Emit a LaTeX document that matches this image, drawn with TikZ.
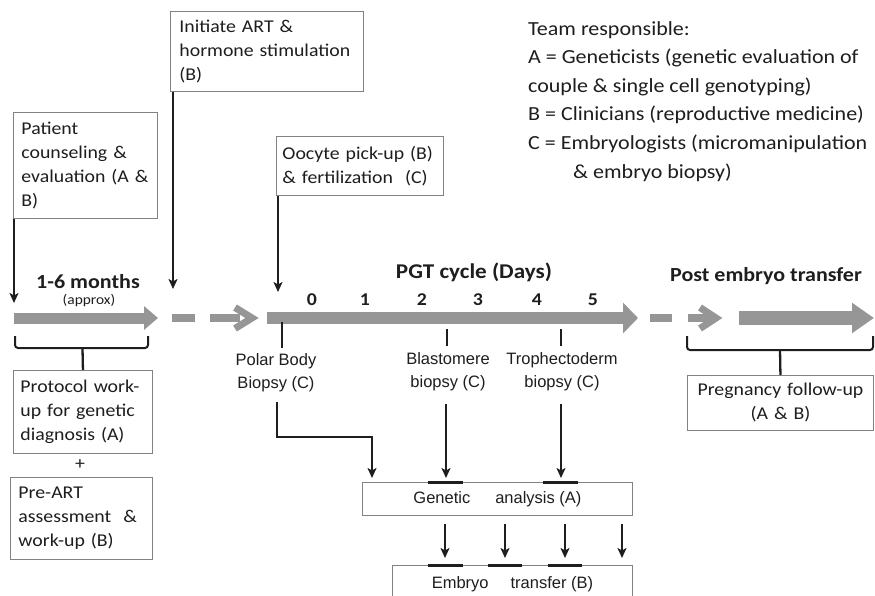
\documentclass[tikz,border=0pt]{standalone}
\usepackage{fontspec}
\setmainfont[FakeStretch=1.1]{Carlito}
\newfontfamily\arialfont{Liberation Sans}
\usetikzlibrary{arrows.meta,calc}
\definecolor{barg}{RGB}{150,150,150}
\definecolor{boxg}{RGB}{130,130,130}
\definecolor{ink}{RGB}{30,30,30}
\definecolor{txt}{RGB}{30,30,30}
\tikzset{
  box/.style={draw=boxg, line width=0.9pt, rectangle, anchor=north west, inner ysep=0pt,
    text=txt, font=\fontsize{18}{24}\selectfont},
  lbox/.style={box, align=left},
  abox/.style={draw=boxg, line width=0.9pt, rectangle, anchor=north west, inner sep=0pt,
    text=txt, font=\arialfont\fontsize{16.5}{20}\selectfont, align=center},
  conn/.style={draw=ink, line width=2.3pt},
  arr/.style={conn, -{Stealth[length=10pt,width=9pt,inset=2.5pt]}},
  bar/.style={draw=ink, line width=3pt},
  bigbar/.style={draw=barg, line cap=butt},
  dashbar/.style={draw=barg, line width=8pt, line cap=butt},
  chev/.style={draw=barg, line width=7pt, line cap=butt, line join=miter},
  brace/.style={draw=ink, line width=2pt, rounded corners=3pt},
  lbl/.style={text=txt, font=\arialfont\fontsize{16.5}{23}\selectfont, align=center, inner sep=0pt},
  hdr/.style={text=txt, font=\bfseries\fontsize{20}{24}\selectfont, inner sep=0pt},
  day/.style={text=txt, font=\bfseries\fontsize{18}{20}\selectfont, inner sep=0pt},
}
\begin{document}
\begin{tikzpicture}[x=1pt,y=-1pt]
\clip (0,0) rectangle (875,596);
\fill[white] (0,0) rectangle (875,596);

% ---- top boxes
\node[lbox, minimum width=193pt, minimum height=80pt, text width=175pt, inner xsep=9pt] (init) at (170,11)
  {Initiate ART \&\\hormone stimulation\\(B)};
\node[lbox, minimum width=144pt, minimum height=106pt, text width=128pt, inner xsep=8pt] (patient) at (13,112)
  {Patient\\counseling \&\\evaluation (A \&\\B)};
\node[lbox, minimum width=167pt, minimum height=59pt, text width=155pt, inner xsep=6pt] (oocyte) at (276,136)
  {Oocyte pick-up (B)\\\& fertilization\ \ (C)};

% ---- team legend
\node[anchor=north west, inner sep=0pt, align=left, text=txt, font=\fontsize{20}{28.6}\selectfont] (team) at (528,21)
  {Team responsible:\\
   A = Geneticists (genetic evaluation of\\
   couple \& single cell genotyping)\\
   B = Clinicians (reproductive medicine)\\
   C = Embryologists (micromanipulation\\
   \hspace*{45pt}\& embryo biopsy)};

% ---- arrows from top boxes
\coordinate (c1) at (14,303);
\coordinate (c2) at (173,289);
\coordinate (c3) at (278,292);
\draw[arr] ([xshift=1pt]patient.south west) -- (c1);
\draw[arr] ([xshift=3pt]init.south west) -- (c2);
\draw[arr] ([xshift=2pt]oocyte.south west) -- (c3);

% ---- headings
\node[hdr] (months) at (88,282) {1-6 months};
\node[text=txt, font=\fontsize{14}{16}\selectfont, inner sep=0pt] (approx) at (89,301) {(approx)};
\node[hdr, font=\bfseries\fontsize{21}{24}\selectfont] (pgt) at (474,272) {PGT cycle (Days)};
\node[hdr] (post) at (766,276) {Post embryo transfer};
\foreach \d/\x in {0/312,1/365,2/422,3/478,4/537,5/593}
  \node[day] (d\d) at (\x,300) {\d};

% ---- grey time line
\coordinate (g1a) at (14,318);  \coordinate (g1b) at (158,318);
\coordinate (g2a) at (267,318); \coordinate (g2b) at (638,318);
\coordinate (g3a) at (739,318); \coordinate (g3b) at (874,318);
\draw[bigbar, line width=11pt, -{Triangle[length=14pt,width=23pt]}] (g1a) -- (g1b);
\draw[bigbar, line width=12pt, -{Triangle[length=15pt,width=30pt]}] (g2a) -- (g2b);
\draw[bigbar, line width=14pt, -{Triangle[length=22pt,width=29pt]}] (g3a) -- (g3b);
% dashed links
\coordinate (da1) at (172,318); \coordinate (da2) at (195,318);
\coordinate (db1) at (210,318); \coordinate (db2) at (240,318);
\draw[dashbar] (da1) -- (da2);
\draw[dashbar] (db1) -- (db2);
\draw[chev] (235,307.5) -- (252,318) -- (235,328.5);
\coordinate (dc1) at (650,318); \coordinate (dc2) at (672,318);
\coordinate (dd1) at (688,318); \coordinate (dd2) at (712,318);
\draw[dashbar] (dc1) -- (dc2);
\draw[dashbar] (dd1) -- (dd2);
\draw[chev] (700,307.5) -- (716,318) -- (700,328.5);

% ---- ticks
\coordinate (t1a) at (282,322); \coordinate (t1b) at (282,348);
\coordinate (t2a) at (447,329); \coordinate (t2b) at (447,346);
\coordinate (t3a) at (561,329); \coordinate (t3b) at (561,346);
\draw[conn, line width=2.8pt] (t1a) -- (t1b);
\draw[conn, line width=2.8pt] (t2a) -- (t2b);
\draw[conn, line width=2.8pt] (t3a) -- (t3b);

% ---- biopsy labels
\node[lbl] (polar) at (276,373) {Polar Body\\Biopsy (C)};
\node[lbl] (blast) at (448,372) {Blastomere\\biopsy (C)};
\node[lbl] (troph) at (562,372) {Trophectoderm\\biopsy (C)};

% ---- braces
\draw[brace] (15,336) -- (15,348) -- (148,348) -- (148,336);
\coordinate (bl) at (82.5,348);
\draw[brace] (687,336) -- (687,350) -- (873,350) -- (873,336);
\coordinate (br) at (780,350);

% ---- left boxes
\node[lbox, minimum width=139pt, minimum height=83pt, text width=125pt, inner xsep=7pt] (protocol) at (13,370)
  {Protocol work-\\up for genetic\\diagnosis (A)};
\node[text=txt, font=\fontsize{18}{20}\selectfont, inner sep=0pt] (plus) at (80,465) {+};
\node[lbox, minimum width=142pt, minimum height=82pt, text width=126pt, inner xsep=8pt] (preart) at (10,477)
  {Pre-ART\\assessment\ \ \&\\work-up (B)};
\draw[conn] (bl) -- (protocol.north);

% ---- pregnancy box
\node[box, align=center, minimum width=186pt, minimum height=55pt, text width=180pt, inner xsep=3pt] (preg) at (687,375)
  {Pregnancy follow-up\\(A \& B)};
\draw[conn] (br) -- (preg.north);

% ---- genetic analysis and embryo transfer
\node[abox, minimum width=270pt, minimum height=33pt] (genetic) at (362,482)
  {Genetic\hspace{25pt}analysis (A)};
\node[abox, minimum width=240pt, minimum height=38pt] (embryo) at (392,565)
  {Embryo\hspace{22pt}transfer (B)};

% bars on box tops
\draw[bar] (428,482) -- (463,482);
\draw[bar] (543,482) -- (578,482);
\draw[bar] (428,565) -- (463,565);
\draw[bar] (488,565) -- (522,565);
\draw[bar] (548,565) -- (582,565);

% ---- connectors to genetic analysis
\coordinate (p1) at (277,402);
\coordinate (p2) at (372,437);
\draw[arr, shorten >=4pt] (p1) |- (p2) -- (p2 |- genetic.north);
\coordinate (b1) at (446,404);
\draw[arr, shorten >=4pt] (b1) -- (b1 |- genetic.north);
\coordinate (tr1) at (561,404);
\draw[arr, shorten >=4pt] (tr1) -- (tr1 |- genetic.north);

% ---- connectors to embryo transfer
\foreach \x [count=\i] in {445,505,565,622} {
  \coordinate (e\i) at (\x,524);
  \draw[arr, shorten >=7pt] (e\i) -- (e\i |- embryo.north);
}
\end{tikzpicture}
\end{document}
